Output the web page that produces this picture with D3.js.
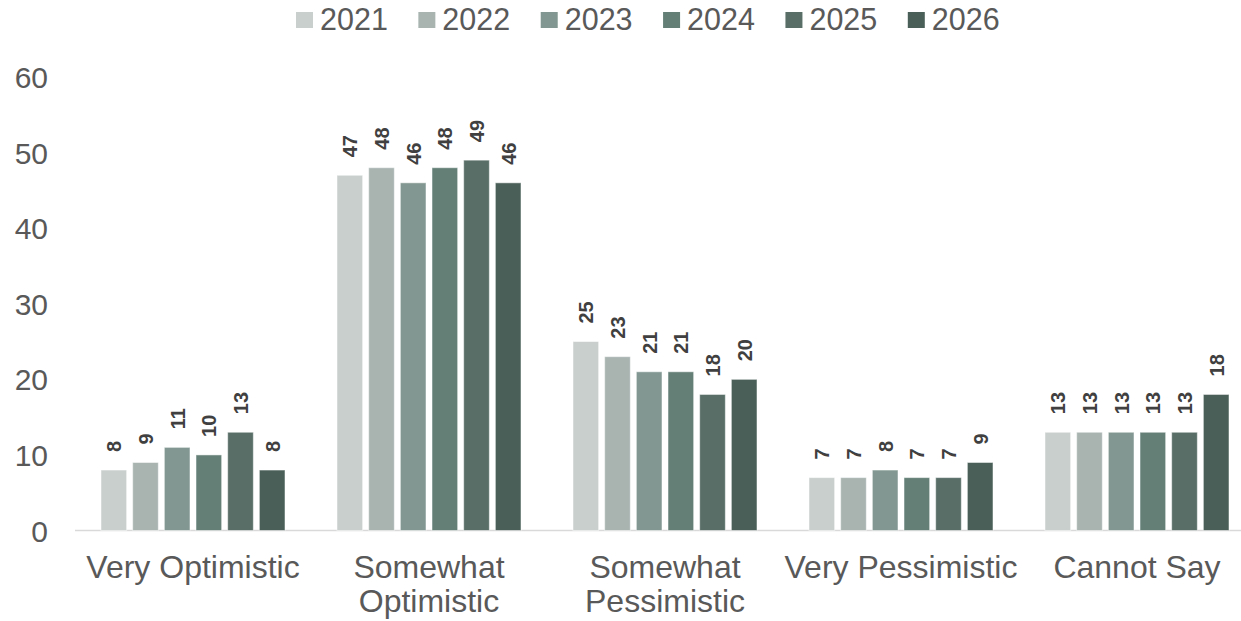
<!DOCTYPE html>
<html><head><meta charset="utf-8">
<script src="https://cdn.jsdelivr.net/npm/d3@7"></script>
<style>body{margin:0;background:#fff}svg{display:block}</style>
</head><body>
<svg id="c" width="1241" height="621"></svg>
<script>
const categories = [["Very Optimistic"],["Somewhat","Optimistic"],["Somewhat","Pessimistic"],["Very Pessimistic"],["Cannot Say"]];
const years = ["2021","2022","2023","2024","2025","2026"];
const v2021 = [8,47,25,7,13];
const v2022 = [9,48,23,7,13];
const v2023 = [11,46,21,8,13];
const v2024 = [10,48,21,7,13];
const v2025 = [13,49,18,7,13];
const v2026 = [8,46,20,9,18];
const yTicks = [0,10,20,30,40,50,60];
const colors = ["#c9cfcc","#a9b4b1","#829791","#637f76","#586e67","#4a5f58"];
const series = [v2021,v2022,v2023,v2024,v2025,v2026];

const svg = d3.select("#c");
const font = "'Liberation Sans', Arial, sans-serif";
const x0 = d3.scaleBand().domain(d3.range(categories.length)).range([75,1255]).paddingInner(0).paddingOuter(0);
const groupW = 184;
const x1 = d3.scaleBand().domain(years).range([0,groupW]).paddingInner(0.19);
const y = d3.scaleLinear().domain([0,60]).range([530.5,77]);

// y axis labels
const ya = svg.append("g").attr("transform","translate(48,0)").call(d3.axisLeft(y).tickValues(yTicks).tickSize(0).tickPadding(0));
ya.select(".domain").remove();
ya.selectAll("text").attr("font-family",font).attr("font-size",30).attr("fill","#595959").attr("dy","0.35em");

// baseline
svg.append("line").attr("x1",75).attr("x2",1241).attr("y1",y(0)).attr("y2",y(0)).attr("stroke","#d9d9d9").attr("stroke-width",1.5);

const groups = svg.append("g").selectAll("g").data(categories).join("g")
  .attr("transform",(d,i)=>`translate(${x0(i)+(x0.bandwidth()-groupW)/2},0)`);
years.forEach((yr,si)=>{
  groups.append("rect")
    .attr("x",x1(yr)).attr("width",x1.bandwidth())
    .attr("y",(d,i)=>y(series[si][i])).attr("height",(d,i)=>y(0)-y(series[si][i]))
    .attr("fill",colors[si]).attr("stroke","#ffffff").attr("stroke-opacity",0.5).attr("stroke-width",1);
  groups.append("text")
    .attr("transform",(d,i)=>`translate(${x1(yr)+x1.bandwidth()/2+7.5},${y(series[si][i])-18}) rotate(-90)`)
    .attr("font-family",font).attr("font-size",20).attr("font-weight","bold").attr("fill","#404040")
    .text((d,i)=>series[si][i]);
});

// category labels
groups.append("text").attr("x",groupW/2).attr("text-anchor","middle")
  .attr("font-family",font).attr("font-size",32).attr("fill","#595959")
  .selectAll("tspan").data(d=>d).join("tspan")
  .attr("x",groupW/2).attr("y",(d,i)=>578+i*34).text(d=>d);

// legend
const leg = svg.append("g");
let lx = 296;
years.forEach((yr,i)=>{
  leg.append("rect").attr("x",lx).attr("y",12).attr("width",17).attr("height",16).attr("fill",colors[i]);
  const t = leg.append("text").attr("x",lx+24).attr("y",30).attr("font-family",font).attr("font-size",30.5).attr("fill","#595959").text(yr);
  lx += 24 + t.node().getComputedTextLength() + 30.5;
});
</script>
</body></html>
